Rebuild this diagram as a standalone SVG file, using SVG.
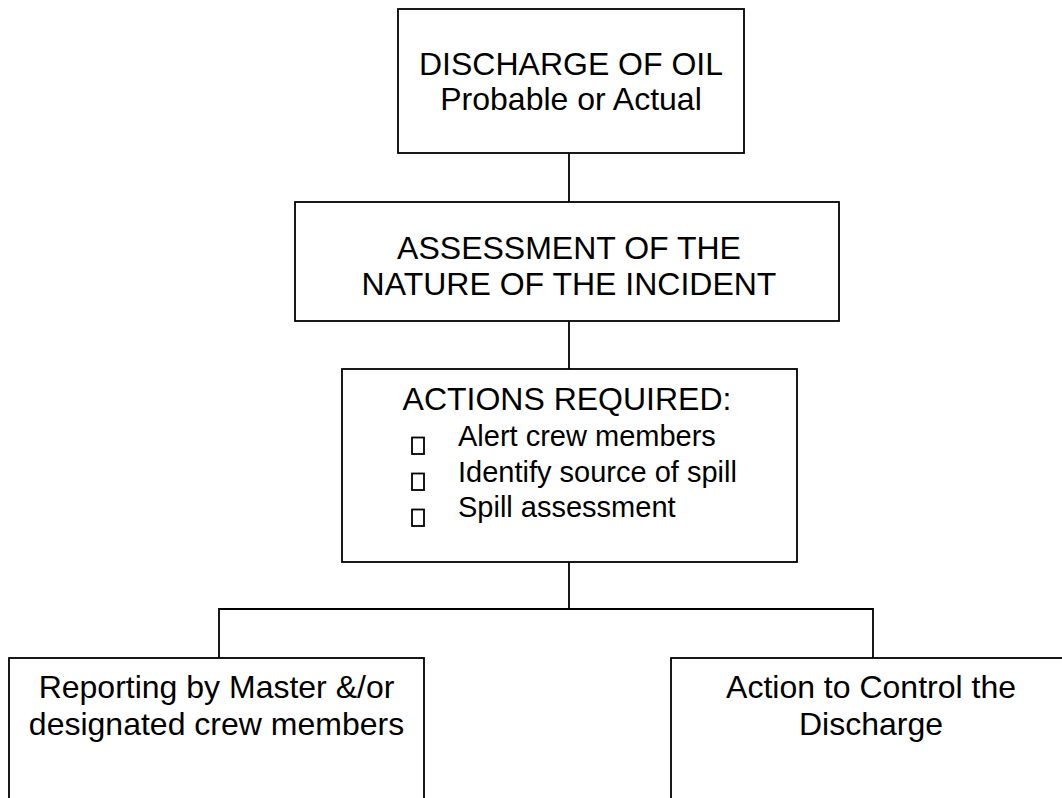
<svg xmlns="http://www.w3.org/2000/svg" width="1062" height="798" viewBox="0 0 1062 798">
<style>
.box{fill:#fff;stroke:#000;stroke-width:1.8}
.conn{fill:none;stroke:#000;stroke-width:1.8}
.t{font-family:"Liberation Sans",Arial,sans-serif;font-size:32px;fill:#000;text-anchor:middle}
.i{font-family:"Liberation Sans",Arial,sans-serif;font-size:29px;fill:#000}
.b{fill:none;stroke:#000;stroke-width:1.8}
</style>
<rect width="1062" height="798" fill="#fff"/>
<g id="connectors">
<line class="conn" x1="569" y1="153" x2="569" y2="202"/>
<line class="conn" x1="569" y1="321" x2="569" y2="369"/>
<polyline class="conn" points="569,562 569,609"/>
<polyline class="conn" points="219,658 219,609 873,609 873,658"/>
</g>
<g id="n1">
<rect class="box" x="398" y="9" width="346" height="144"/>
<text class="t" x="571" y="75">DISCHARGE OF OIL</text>
<text class="t" x="571" y="110">Probable or Actual</text>
</g>
<g id="n2">
<rect class="box" x="295" y="202" width="544" height="119"/>
<text class="t" x="569" y="259">ASSESSMENT OF THE</text>
<text class="t" x="569" y="295">NATURE OF THE INCIDENT</text>
</g>
<g id="n3">
<rect class="box" x="342" y="369" width="455" height="193"/>
<text class="t" x="567" y="410">ACTIONS REQUIRED:</text>
<rect class="b" x="412" y="437.5" width="12" height="16.5"/>
<rect class="b" x="412" y="473.5" width="12" height="16.5"/>
<rect class="b" x="412" y="509.5" width="12" height="16.5"/>
<text class="i" x="458" y="446">Alert crew members</text>
<text class="i" x="458" y="482">Identify source of spill</text>
<text class="i" x="458" y="517">Spill assessment</text>
</g>
<g id="n4">
<rect class="box" x="9" y="658" width="415" height="160"/>
<text class="t" x="216.5" y="698">Reporting by Master &amp;/or</text>
<text class="t" x="216.5" y="735">designated crew members</text>
</g>
<g id="n5">
<rect class="box" x="671" y="658" width="420" height="160"/>
<text class="t" x="871" y="698">Action to Control the</text>
<text class="t" x="871" y="735">Discharge</text>
</g>
</svg>
